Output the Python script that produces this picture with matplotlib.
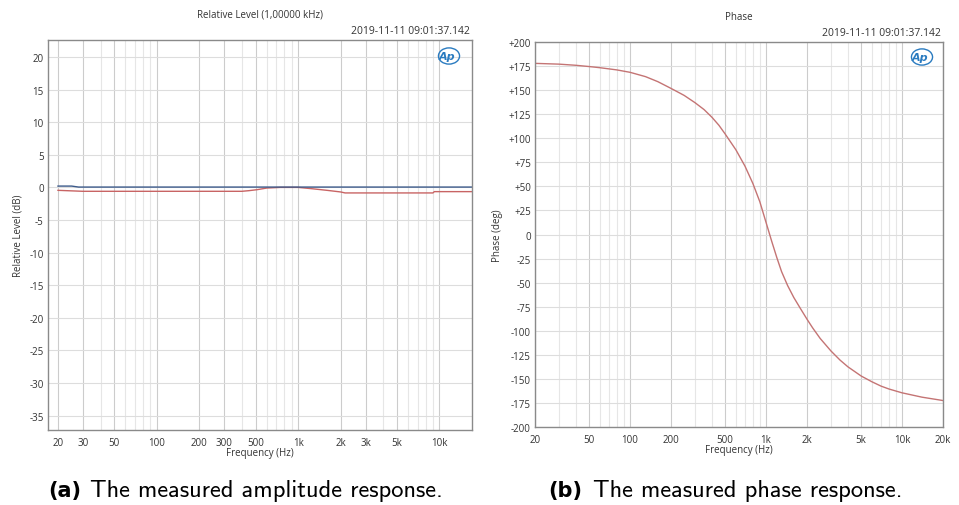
import matplotlib
matplotlib.use('Agg')
import matplotlib.pyplot as plt
from matplotlib.patches import Ellipse
from matplotlib.ticker import FixedLocator, NullFormatter

# --- amplitude response (left) ---
amp_blue_f = [20, 25, 28, 17000]
amp_blue_db = [0.2, 0.2, 0.05, 0.05]
amp_red_f = [20, 30, 100, 400, 450, 513, 600, 750, 1000, 1250, 1600, 2000, 2150, 5000, 9000, 9200, 17000]
amp_red_db = [-0.45, -0.6, -0.6, -0.6, -0.5, -0.35, -0.1, 0.0, 0.0, -0.2, -0.45, -0.7, -0.85, -0.85, -0.85, -0.65, -0.65]

amp_xticks = [20, 30, 50, 100, 200, 300, 500, 1000, 2000, 3000, 5000, 10000]
amp_xlabels = ['20', '30', '50', '100', '200', '300', '500', '1k', '2k', '3k', '5k', '10k']
amp_yticks = [20, 15, 10, 5, 0, -5, -10, -15, -20, -25, -30, -35]

# --- phase response (right) ---
ph_f = [20, 30, 40, 50, 60, 80, 100, 130, 160, 200, 250, 300, 350, 400, 450, 500, 600, 700,
        800, 900, 1000, 1100, 1200, 1300, 1440, 1600, 1800, 2000, 2200, 2500,
        3000, 3500, 4000, 5000, 6000, 7000, 8000, 10000, 14000, 20000]
ph_deg = [177.8, 177, 175.8, 174.5, 173.3, 171, 168.5, 164, 158.8, 151.8, 144.5, 137, 129.8, 121.8, 113.5, 104.5, 88, 71,
          53, 34, 12.5, -7, -24, -38.5, -53, -65.5, -77.5, -88, -97, -108,
          -121, -130.5, -137.5, -147, -153, -157.5, -160.5, -164.5, -169, -172.5]

ph_xticks = [20, 50, 100, 200, 500, 1000, 2000, 5000, 10000, 20000]
ph_xlabels = ['20', '50', '100', '200', '500', '1k', '2k', '5k', '10k', '20k']
ph_yticks = list(range(200, -201, -25))
ph_ylabels = ['+%d' % v if v > 0 else str(v) for v in ph_yticks]

STAMP = '2019-11-11 09:01:37.142'
FONT = 'Open Sans'
TXT = '#333333'


def minor_freqs(lo, hi, major):
    out = []
    dec = 10
    while dec <= hi * 10:
        for m in range(1, 10):
            f = m * dec
            if lo <= f <= hi and f not in major:
                out.append(f)
        dec *= 10
    return out


def style_axes(ax, xlim, ylim, xticks, xlabels, yticks, ylabels):
    ax.set_xscale('log')
    ax.set_xlim(*xlim)
    ax.set_ylim(*ylim)
    ax.xaxis.set_major_locator(FixedLocator(xticks))
    ax.set_xticklabels(xlabels)
    ax.xaxis.set_minor_locator(FixedLocator(minor_freqs(xlim[0], xlim[1], xticks)))
    ax.xaxis.set_minor_formatter(NullFormatter())
    ax.set_yticks(yticks)
    ax.set_yticklabels(ylabels)
    ax.tick_params(which='both', length=0, labelsize=7, colors=TXT, pad=3)
    ax.tick_params(axis='x', pad=5)
    for lab in ax.get_xticklabels() + ax.get_yticklabels():
        lab.set_fontfamily(FONT)
    ax.grid(True, which='major', axis='x', color='#cccccc', linewidth=0.8)
    ax.grid(True, which='minor', axis='x', color='#e6e6e6', linewidth=0.8)
    ax.grid(True, which='major', axis='y', color='#dddddd', linewidth=0.8)
    ax.set_axisbelow(True)
    for sp in ax.spines.values():
        sp.set_color('#8a8a8a')
        sp.set_linewidth(1.0)
    ax.set_xlabel('Frequency (Hz)', fontsize=7, family=FONT, color=TXT, labelpad=-1)


def ap_logo(fig, x, y):
    fig.patches.append(Ellipse((x, y), 0.022, 0.032, transform=fig.transFigure,
                               fill=False, edgecolor='#2a7bc0', linewidth=1.0))
    fig.text(x - 0.002, y, 'Ap', fontsize=8, fontweight='bold', style='italic',
             color='#2a7bc0', ha='center', va='center', family='DejaVu Sans')


fig = plt.figure(figsize=(9.59, 5.06), dpi=100)

# left: amplitude
ax1 = fig.add_axes([48 / 959, 75 / 506, 424 / 959, 390 / 506])
ax1.plot(amp_red_f, amp_red_db, color='#c86464', linewidth=1.0)
ax1.plot(amp_blue_f, amp_blue_db, color='#3c5a8a', linewidth=1.0)
style_axes(ax1, (17, 17000), (-37.2, 22.6), amp_xticks, amp_xlabels,
           amp_yticks, [str(v) for v in amp_yticks])
ax1.set_ylabel('Relative Level (dB)', fontsize=7, family=FONT, color=TXT, labelpad=4)
fig.text(260 / 959, 1 - 15 / 506, 'Relative Level (1,00000 kHz)', fontsize=7,
         family=FONT, color=TXT, ha='center', va='center')
fig.text(470 / 959, 1 - 31 / 506, STAMP, fontsize=7.5, family=FONT, color=TXT,
         ha='right', va='center')
ap_logo(fig, 449 / 959, 1 - 57 / 506)

# right: phase
ax2 = fig.add_axes([535 / 959, 78 / 506, 408 / 959, 385 / 506])
ax2.plot(ph_f, ph_deg, color='#c47474', linewidth=1.0)
style_axes(ax2, (20, 20000), (-200, 200), ph_xticks, ph_xlabels, ph_yticks, ph_ylabels)
ax2.set_ylabel('Phase (deg)', fontsize=7, family=FONT, color=TXT, labelpad=4)
fig.text(739 / 959, 1 - 17 / 506, 'Phase', fontsize=7, family=FONT, color=TXT,
         ha='center', va='center')
fig.text(941 / 959, 1 - 33 / 506, STAMP, fontsize=7.5, family=FONT, color=TXT,
         ha='right', va='center')
ap_logo(fig, 922 / 959, 1 - 58 / 506)

# captions
for x_tag, x_txt, tag, txt in [(48, 90, '(a)', 'The measured amplitude response.'),
                               (548, 593, '(b)', 'The measured phase response.')]:
    fig.text(x_tag / 959, 9 / 506, tag, fontsize=15, fontweight='bold',
             family='DejaVu Sans', ha='left', va='baseline')
    fig.text(x_txt / 959, 9 / 506, txt, fontsize=17.6, family='cmss10',
             ha='left', va='baseline')

fig.savefig('out.png', dpi=100)
